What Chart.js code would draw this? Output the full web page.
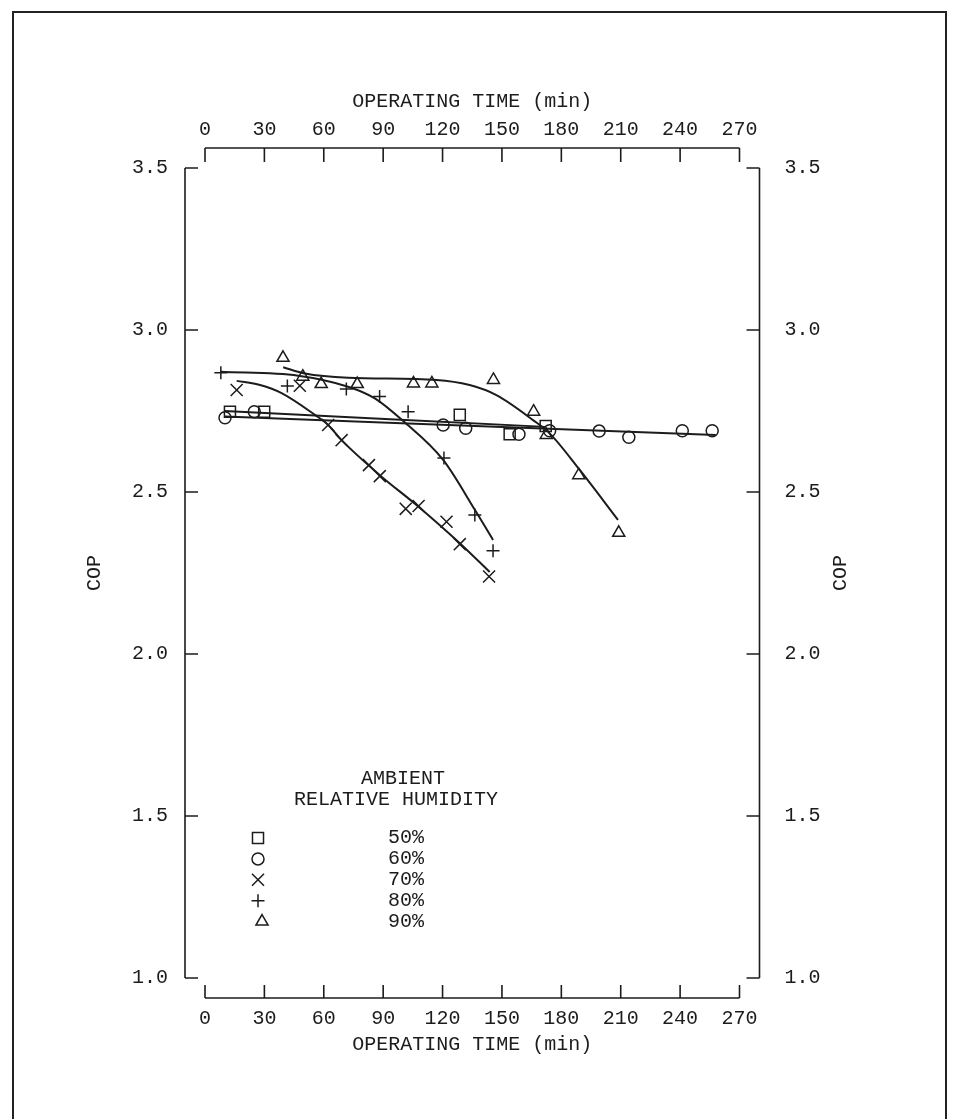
<!DOCTYPE html>
<html>
<head>
<meta charset="utf-8">
<script src="https://cdn.jsdelivr.net/npm/chart.js@4.4.1/dist/chart.umd.min.js"></script>
<style>
  html, body { margin: 0; padding: 0; background: #fff; }
  #wrap { width: 955px; height: 1119px; }
</style>
</head>
<body>
<div id="wrap"><canvas id="copChart" width="955" height="1119"></canvas></div>
<script>
// COP against operating time, five ambient humidity runs
const timeTicks = [0, 30, 60, 90, 120, 150, 180, 210, 240, 270];
const copTicks = [1.0, 1.5, 2.0, 2.5, 3.0, 3.5];
const humidityLabels = ['50%', '60%', '70%', '80%', '90%'];

// measured points
const rh50Time = [12.6, 29.9, 128.7, 153.9, 172.1];
const rh50Cop = [2.748, 2.748, 2.738, 2.678, 2.704];
const rh60Time = [10.1, 24.9, 120.3, 131.7, 158.6, 174.1, 199.1, 214.1, 241.1, 256.2];
const rh60Cop = [2.729, 2.748, 2.707, 2.697, 2.678, 2.689, 2.688, 2.669, 2.689, 2.689];
const rh70Time = [16.0, 47.9, 62.2, 69.0, 82.8, 88.3, 101.4, 107.9, 122.0, 128.7, 143.5];
const rh70Cop = [2.815, 2.828, 2.707, 2.660, 2.583, 2.549, 2.448, 2.457, 2.408, 2.339, 2.239];
const rh80Time = [8.0, 41.6, 71.4, 88.2, 102.6, 120.7, 136.3, 145.5];
const rh80Cop = [2.868, 2.827, 2.818, 2.795, 2.748, 2.605, 2.429, 2.319];
const rh90Time = [39.4, 49.4, 58.7, 76.9, 105.3, 114.6, 145.7, 166.0, 172.4, 188.8, 209.0];
const rh90Cop = [2.914, 2.856, 2.833, 2.833, 2.835, 2.835, 2.846, 2.748, 2.676, 2.552, 2.374];

// fitted curves
const fit50Time = [10, 172];
const fit50Cop = [2.750, 2.701];
const fit60Time = [10, 258];
const fit60Cop = [2.733, 2.676];
const fit70Time = [16.0, 27.8, 38.7, 55.5, 62.2, 69.0, 88.3, 106.8, 128.7, 143.8];
const fit70Cop = [2.843, 2.830, 2.805, 2.738, 2.707, 2.660, 2.552, 2.460, 2.342, 2.253];
const fit80Time = [7.6, 47.1, 72.3, 85.8, 100.1, 120.3, 136.3, 145.5];
const fit80Cop = [2.871, 2.859, 2.825, 2.789, 2.719, 2.599, 2.445, 2.352];
const fit90Time = [39.5, 50.5, 72.3, 116.9, 133.7, 147.2, 165.7, 174.1, 189.3, 208.6];
const fit90Cop = [2.885, 2.866, 2.853, 2.846, 2.830, 2.799, 2.722, 2.681, 2.568, 2.414];

const INK = '#1c1c1c';
const FONT = "'Liberation Mono', 'DejaVu Sans Mono', monospace";
const tickFont = { family: FONT, size: 20 };

const toPts = (xs, ys) => xs.map((v, i) => ({ x: v, y: ys[i] }));

// marker look for each humidity, same order as humidityLabels
const markerLook = [
  { pointStyle: 'rect', radius: 7.8 },
  { pointStyle: 'circle', radius: 6 },
  { pointStyle: 'crossRot', radius: 8.5 },
  { pointStyle: 'cross', radius: 6.5 },
  { pointStyle: 'triangle', radius: 7 }
];

function markers(label, xs, ys, look) {
  return {
    label: label,
    data: toPts(xs, ys),
    showLine: false,
    pointStyle: look.pointStyle,
    pointRadius: look.radius,
    pointHoverRadius: look.radius,
    pointBorderColor: INK,
    pointBackgroundColor: 'rgba(0,0,0,0)',
    pointBorderWidth: 1.5
  };
}

function curve(xs, ys) {
  return {
    data: toPts(xs, ys),
    showLine: true,
    pointRadius: 0,
    borderColor: INK,
    borderWidth: 2,
    cubicInterpolationMode: 'monotone'
  };
}

// detached axis lines with inward ticks, outer frame, right COP label
const axisFrame = {
  id: 'axisFrame',
  beforeDraw(chart) {
    const ctx = chart.ctx;
    ctx.save();
    ctx.fillStyle = '#fff';
    ctx.fillRect(0, 0, chart.width, chart.height);
    ctx.strokeStyle = '#222';
    ctx.lineWidth = 2;
    ctx.strokeRect(13, 12, 933, 1140);
    ctx.restore();
  },
  afterDraw(chart) {
    const { ctx, chartArea: a, scales } = chart;
    const x = scales.x, y = scales.y;
    const gap = 20;
    ctx.save();
    ctx.strokeStyle = INK;
    ctx.lineWidth = 1.6;
    ctx.beginPath();
    const xa = x.getPixelForValue(x.min), xb = x.getPixelForValue(x.max);
    const yTop = a.top - gap, yBot = a.bottom + gap;
    ctx.moveTo(xa, yTop); ctx.lineTo(xb, yTop);
    ctx.moveTo(xa, yBot); ctx.lineTo(xb, yBot);
    x.ticks.forEach(t => {
      const px = x.getPixelForValue(t.value);
      ctx.moveTo(px, yTop); ctx.lineTo(px, yTop + 14);
      ctx.moveTo(px, yBot); ctx.lineTo(px, yBot - 13);
    });
    const xl = a.left - gap, xr = a.right + gap;
    const ya = y.getPixelForValue(y.max), yb = y.getPixelForValue(y.min);
    ctx.moveTo(xl, ya); ctx.lineTo(xl, yb);
    ctx.moveTo(xr, ya); ctx.lineTo(xr, yb);
    y.ticks.forEach(t => {
      const py = y.getPixelForValue(t.value);
      ctx.moveTo(xl, py); ctx.lineTo(xl + 13, py);
      ctx.moveTo(xr, py); ctx.lineTo(xr - 13, py);
    });
    ctx.stroke();

    ctx.fillStyle = INK;
    ctx.font = '20px ' + FONT;
    ctx.textAlign = 'center';
    ctx.textBaseline = 'middle';
    ctx.translate(a.right + 101, (a.top + a.bottom) / 2);
    ctx.rotate(-Math.PI / 2);
    ctx.fillText('COP', 0, 0);
    ctx.restore();
  }
};

// hand-placed key inside the plot, like the original
const humidityKey = {
  id: 'humidityKey',
  afterDraw(chart) {
    const ctx = chart.ctx;
    ctx.save();
    ctx.fillStyle = INK;
    ctx.font = '20px ' + FONT;
    ctx.textAlign = 'center';
    ctx.textBaseline = 'middle';
    ctx.fillText('AMBIENT', 403, 779);
    ctx.fillText('RELATIVE HUMIDITY', 396, 800);
    humidityLabels.forEach((lab, i) => {
      const rowY = 838 + i * 20.9;
      ctx.fillStyle = INK;
      ctx.fillText(lab, 406, rowY);
      ctx.strokeStyle = INK;
      ctx.fillStyle = 'rgba(0,0,0,0)';
      ctx.lineWidth = 1.5;
      Chart.helpers.drawPoint(ctx, {
        pointStyle: markerLook[i].pointStyle,
        radius: markerLook[i].radius,
        rotation: 0,
        borderWidth: 1.5
      }, i === 4 ? 262 : 258, rowY);
    });
    ctx.restore();
  }
};

const setTicks = vals => scale => { scale.ticks = vals.map(v => ({ value: v })); };

new Chart(document.getElementById('copChart'), {
  type: 'scatter',
  data: {
    datasets: [
      markers(humidityLabels[0], rh50Time, rh50Cop, markerLook[0]),
      markers(humidityLabels[1], rh60Time, rh60Cop, markerLook[1]),
      markers(humidityLabels[2], rh70Time, rh70Cop, markerLook[2]),
      markers(humidityLabels[3], rh80Time, rh80Cop, markerLook[3]),
      markers(humidityLabels[4], rh90Time, rh90Cop, markerLook[4]),
      curve(fit50Time, fit50Cop),
      curve(fit60Time, fit60Cop),
      curve(fit70Time, fit70Cop),
      curve(fit80Time, fit80Cop),
      curve(fit90Time, fit90Cop)
    ]
  },
  options: {
    responsive: false,
    animation: false,
    events: [],
    layout: { padding: 0 },
    plugins: {
      legend: { display: false },
      tooltip: { enabled: false }
    },
    scales: {
      x: {
        type: 'linear', position: 'bottom', min: 0, max: 270,
        afterBuildTicks: setTicks(timeTicks),
        afterFit: s => { s.height = 141; },
        grid: { display: false, drawTicks: false },
        border: { display: false },
        ticks: { font: tickFont, color: INK, padding: 29, maxRotation: 0, autoSkip: false },
        title: { display: true, text: 'OPERATING TIME (min)', font: tickFont, color: INK, padding: { top: 0, bottom: 62 } }
      },
      x2: {
        type: 'linear', position: 'top', min: 0, max: 270,
        afterBuildTicks: setTicks(timeTicks),
        afterFit: s => { s.height = 168; },
        grid: { display: false, drawTicks: false },
        border: { display: false },
        ticks: { font: tickFont, color: INK, padding: 26, maxRotation: 0, autoSkip: false },
        title: { display: true, text: 'OPERATING TIME (min)', font: tickFont, color: INK, padding: { top: 90, bottom: 0 } }
      },
      y: {
        type: 'linear', position: 'left', min: 1, max: 3.5,
        afterBuildTicks: setTicks(copTicks),
        afterFit: s => { s.width = 205; },
        grid: { display: false, drawTicks: false },
        border: { display: false },
        ticks: { font: tickFont, color: INK, padding: 37, callback: v => Number(v).toFixed(1) },
        title: { display: true, text: 'COP', font: tickFont, color: INK, padding: { top: 83, bottom: 0 } }
      },
      y2: {
        type: 'linear', position: 'right', min: 1, max: 3.5,
        afterBuildTicks: setTicks(copTicks),
        afterFit: s => { s.width = 215.5; },
        grid: { display: false, drawTicks: false },
        border: { display: false },
        ticks: { font: tickFont, color: INK, padding: 45, callback: v => Number(v).toFixed(1) }
      }
    }
  },
  plugins: [axisFrame, humidityKey]
});
</script>
</body>
</html>
